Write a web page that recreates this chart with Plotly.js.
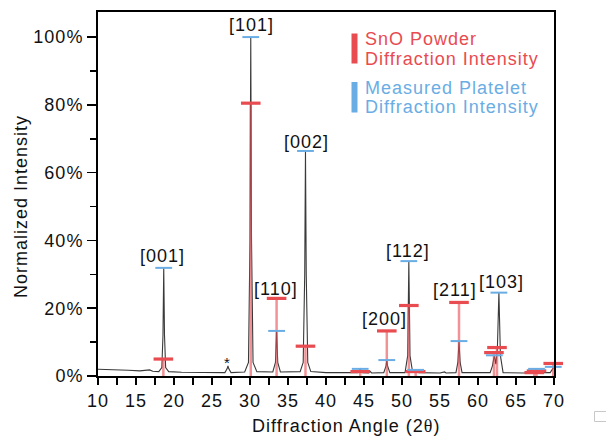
<!DOCTYPE html>
<html>
<head>
<meta charset="utf-8">
<script src="https://cdn.plot.ly/plotly-3.0.1.min.js"></script>
<style>html,body{margin:0;padding:0;background:#fff;}#chart{width:606px;height:439px;} text{letter-spacing:1px;}</style>
</head>
<body>
<div id="chart"></div>
<script>
// Measured platelet diffractogram (2θ in degrees, normalized intensity %)
var measuredAngle = [10, 12, 14, 15.5, 16.8, 17.2, 18.0, 18.4, 18.55, 18.65, 18.75, 18.9, 19.3, 21, 24, 26.7, 27.0, 27.1, 27.2, 27.5,
  29.3, 29.8, 30.0, 30.1, 30.2, 30.4, 30.9, 33.0, 33.35, 33.5, 33.65, 34.0, 36.6, 37.0, 37.2, 37.3, 37.4, 37.6, 38.0,
  40, 44.2, 44.5, 44.8, 45.6, 45.8, 46.0, 47.6, 47.9, 48.0, 48.1, 48.4, 50.4, 50.75, 50.9, 51.05, 51.4, 51.8, 52.2,
  55.0, 55.6, 55.8, 57.1, 57.35, 57.5, 57.65, 57.9, 61.6, 61.9, 62.15, 62.35, 62.55, 62.75, 62.95, 63.3, 66, 67.5, 67.7, 67.9, 69.5, 69.8, 70.0];
var measuredIntensity = [2.0, 1.9, 1.7, 1.5, 1.8, 1.4, 1.3, 2.5, 12, 31.9, 12, 2.5, 1.3, 1.1, 1.0, 1.0, 2.2, 3.0, 2.2, 1.0,
  1.2, 4, 40, 100, 40, 4, 1.3, 1.2, 4, 13.3, 4, 1.2, 1.3, 4, 30, 66.4, 30, 4, 1.3,
  1.0, 1.0, 2.1, 1.0, 0.9, 1.4, 0.9, 1.0, 3.0, 4.7, 3.0, 1.0, 1.0, 6, 33.9, 6, 1.1, 1.4, 1.0,
  0.9, 1.2, 0.9, 1.0, 4, 10.3, 4, 1.0, 1.0, 3, 6.1, 3.5, 8, 24.6, 6, 1.0, 0.9, 1.1, 1.6, 1.0, 1.0, 2.0, 2.7];

// SnO powder reference intensities (red)
var powderAngle = [18.6, 30.1, 33.5, 37.3, 44.5, 48.0, 50.9, 51.8, 57.5, 62.1, 62.5, 67.4, 67.7, 69.9];
var powderIntensity = [5.0, 80.5, 22.9, 8.8, 1.3, 13.3, 20.8, 1.3, 21.7, 6.9, 8.4, 1.0, 1.5, 3.7];

// Measured platelet peak intensities (blue)
var plateletAngle = [18.65, 30.1, 33.5, 37.3, 44.5, 48.0, 50.9, 51.8, 57.5, 62.15, 62.75, 67.7, 69.9];
var plateletIntensity = [31.9, 100, 13.3, 66.4, 2.1, 4.7, 33.9, 1.8, 10.3, 6.1, 24.6, 2.1, 2.7];

// Peak labels
var labelText = ['[001]', '[101]', '[002]', '[110]', '[200]', '[112]', '[211]', '[103]', '*'];
var labelAngle = [18.45, 30.2, 37.4, 33.4, 47.7, 50.8, 57.0, 63.1, 27.1];
var labelIntensity = [35.3, 103.5, 69.1, 25.6, 16.7, 36.9, 25.4, 27.8, 4.1];

var RED = '#E84B50', BLUE = '#6AADE4';
var FONT = 'Liberation Sans, Arial, sans-serif';

var stemX = [], stemY = [];
for (var i = 0; i < powderAngle.length; i++) {
  stemX.push(powderAngle[i], powderAngle[i], null);
  stemY.push(0, powderIntensity[i], null);
}

var traces = [
  {x: measuredAngle, y: measuredIntensity, mode: 'lines', line: {color: '#3a3a3a', width: 1.1}, hoverinfo: 'skip'},
  {x: stemX, y: stemY, mode: 'lines', line: {color: 'rgba(232,75,80,0.6)', width: 2.5}, connectgaps: false, hoverinfo: 'skip'},
  {x: powderAngle, y: powderIntensity, mode: 'markers', cliponaxis: false,
   marker: {symbol: 'line-ew', size: 14, line: {color: RED, width: 3.2}}},
  {x: plateletAngle, y: plateletIntensity, mode: 'markers', cliponaxis: false,
   marker: {symbol: 'line-ew', size: 12, line: {color: BLUE, width: 2}}}
];

var annotations = [];
for (var j = 0; j < labelText.length; j++) {
  annotations.push({x: labelAngle[j], y: labelIntensity[j], xref: 'x', yref: 'y', text: labelText[j],
    showarrow: false, font: {family: FONT, size: labelText[j] === '*' ? 15 : 18, color: '#111'}});
}
var legendLines = [
  ['SnO Powder', 39.5, RED], ['Diffraction Intensity', 58.5, RED],
  ['Measured Platelet', 88, BLUE], ['Diffraction Intensity', 107.5, BLUE]
];
legendLines.forEach(function (l) {
  annotations.push({xref: 'paper', yref: 'paper', x: (363 - 98) / 456, y: (376 - l[1]) / 364,
    xanchor: 'left', yanchor: 'middle', text: l[0], showarrow: false,
    font: {family: FONT, size: 18, color: l[2]}});
});
annotations.push({xref: 'paper', yref: 'paper', x: (346 - 98) / 456, y: (376 - 426) / 364,
  xanchor: 'center', yanchor: 'middle', showarrow: false,
  text: 'Diffraction Angle (2<span style="font-family:Liberation Serif, serif">θ</span>)',
  font: {family: FONT, size: 18, color: '#111'}});
annotations.push({xref: 'paper', yref: 'paper', x: (21 - 98) / 456, y: (376 - 207) / 364,
  xanchor: 'center', yanchor: 'middle', showarrow: false, textangle: -90,
  text: 'Normalized Intensity', font: {family: FONT, size: 18, color: '#111'}});

var layout = {
  width: 606, height: 439,
  margin: {l: 98, r: 52, t: 12, b: 63},
  paper_bgcolor: '#fff', plot_bgcolor: '#fff',
  showlegend: false,
  font: {family: FONT, size: 18, color: '#111'},
  xaxis: {range: [10, 70], tick0: 10, dtick: 5, showgrid: false, zeroline: false,
    showline: true, linecolor: '#000', linewidth: 2, mirror: true,
    ticks: 'outside', ticklen: 7, tickwidth: 1.5, tickcolor: '#000',
    minor: {dtick: 2.5, ticks: 'outside', ticklen: 7, tickwidth: 1.5, tickcolor: '#000', showgrid: false},
    tickfont: {family: FONT, size: 18, color: '#111'}},
  yaxis: {range: [0, 107.4], tick0: 0, dtick: 20, ticksuffix: '%', showgrid: false, zeroline: false,
    showline: true, linecolor: '#000', linewidth: 2, mirror: true,
    ticks: 'outside', ticklen: 9, tickwidth: 1.5, tickcolor: '#000',
    minor: {dtick: 10, ticks: 'outside', ticklen: 6, tickwidth: 1.5, tickcolor: '#000', showgrid: false},
    tickfont: {family: FONT, size: 18, color: '#111'}},
  annotations: annotations,
  shapes: [
    {type: 'rect', xref: 'paper', yref: 'paper', x0: (351.5 - 98) / 456, x1: (357.5 - 98) / 456,
     y0: (376 - 63.5) / 364, y1: (376 - 33.5) / 364, fillcolor: RED, line: {width: 0}},
    {type: 'rect', xref: 'paper', yref: 'paper', x0: (351.5 - 98) / 456, x1: (357.5 - 98) / 456,
     y0: (376 - 112.5) / 364, y1: (376 - 82) / 364, fillcolor: BLUE, line: {width: 0}},
    {type: 'rect', xref: 'paper', yref: 'paper', x0: (594.5 - 98) / 456, x1: (610 - 98) / 456,
     y0: (376 - 421.5) / 364, y1: (376 - 411.5) / 364, fillcolor: 'rgba(0,0,0,0)', line: {color: '#c8c8c8', width: 1}}
  ]
};

Plotly.newPlot('chart', traces, layout, {displayModeBar: false, staticPlot: true});
</script>
</body>
</html>
